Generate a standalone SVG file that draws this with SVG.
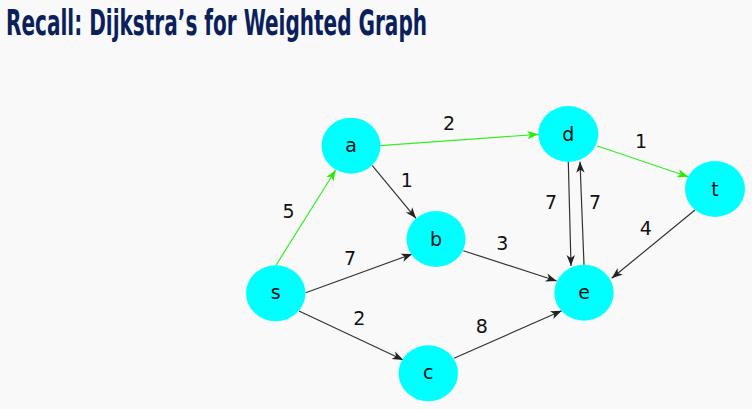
<svg xmlns="http://www.w3.org/2000/svg" width="752" height="409" viewBox="0 0 752 409">
<style>
.node ellipse{fill:#00ffff;stroke:none}
.node text{font-family:"DejaVu Sans",sans-serif;font-size:19px;fill:#111;text-anchor:middle}
.lbl{font-family:"DejaVu Sans",sans-serif;font-size:19px;fill:#111;text-anchor:middle}
.e{stroke:#333;stroke-width:1.2;fill:none;marker-end:url(#ak)}
.g{stroke:#33ee22;stroke-width:1.2;fill:none;marker-end:url(#ag)}
.title{font-family:"DejaVu Sans Condensed","Liberation Sans",sans-serif;font-weight:bold;font-size:36px;fill:#0b1f5b}
</style>
<defs>
<marker id="ak" markerUnits="userSpaceOnUse" orient="auto" markerWidth="14" markerHeight="10" refX="12" refY="5" viewBox="0 0 14 10">
<path d="M12,5 L1,0.8 L4,5 L1,9.2 Z" fill="#222"/>
</marker>
<marker id="ag" markerUnits="userSpaceOnUse" orient="auto" markerWidth="14" markerHeight="10" refX="12" refY="5" viewBox="0 0 14 10">
<path d="M12,5 L1,0.8 L4,5 L1,9.2 Z" fill="#22ee00"/>
</marker>
</defs>
<rect width="752" height="409" fill="#f9f9f9"/>
<text class="title" x="6" y="35" textLength="421" lengthAdjust="spacingAndGlyphs">Recall: Dijkstra’s for Weighted Graph</text>
<g id="edges">
<line class="g" x1="380" y1="145.7" x2="538.3" y2="134.3"/>
<line class="e" x1="372.3" y1="165.7" x2="416" y2="218.3"/>
<line class="g" x1="275.7" y1="265.7" x2="335.7" y2="170"/>
<line class="e" x1="305.7" y1="292.7" x2="412.3" y2="254"/>
<line class="e" x1="299" y1="311" x2="403.3" y2="360"/>
<line class="e" x1="454" y1="358.3" x2="561.7" y2="310.7"/>
<line class="e" x1="463.3" y1="250.7" x2="556.7" y2="281"/>
<line class="e" x1="568.3" y1="161.7" x2="571" y2="266"/>
<line class="e" x1="584" y1="265" x2="580" y2="161.7"/>
<line class="g" x1="596.7" y1="145.7" x2="688.3" y2="176.7"/>
<line class="e" x1="695" y1="210" x2="611.7" y2="278.3"/>
<text class="lbl" x="449" y="130">2</text>
<text class="lbl" x="406.7" y="187">1</text>
<text class="lbl" x="288.5" y="218">5</text>
<text class="lbl" x="350" y="265">7</text>
<text class="lbl" x="359.3" y="325">2</text>
<text class="lbl" x="481.7" y="333">8</text>
<text class="lbl" x="502.3" y="250">3</text>
<text class="lbl" x="641" y="148">1</text>
<text class="lbl" x="551" y="209">7</text>
<text class="lbl" x="595" y="209">7</text>
<text class="lbl" x="645.7" y="235">4</text>
</g>
<g id="node-a" class="node"><ellipse cx="351" cy="145.7" rx="29.5" ry="28"/><text x="351" y="151.7">a</text></g>
<g id="node-b" class="node"><ellipse cx="436" cy="239" rx="29.5" ry="28"/><text x="436" y="245.5">b</text></g>
<g id="node-s" class="node"><ellipse cx="275.7" cy="293.3" rx="29.7" ry="28"/><text x="275.7" y="299.3">s</text></g>
<g id="node-c" class="node"><ellipse cx="428.3" cy="373.3" rx="29.7" ry="28"/><text x="428.3" y="379.3">c</text></g>
<g id="node-d" class="node"><ellipse cx="568.3" cy="134" rx="30" ry="28"/><text x="568.3" y="140.5">d</text></g>
<g id="node-t" class="node"><ellipse cx="715" cy="189" rx="30" ry="28"/><text x="715" y="195.5">t</text></g>
<g id="node-e" class="node"><ellipse cx="584" cy="292.7" rx="29.7" ry="28"/><text x="584" y="298.7">e</text></g>
</svg>
